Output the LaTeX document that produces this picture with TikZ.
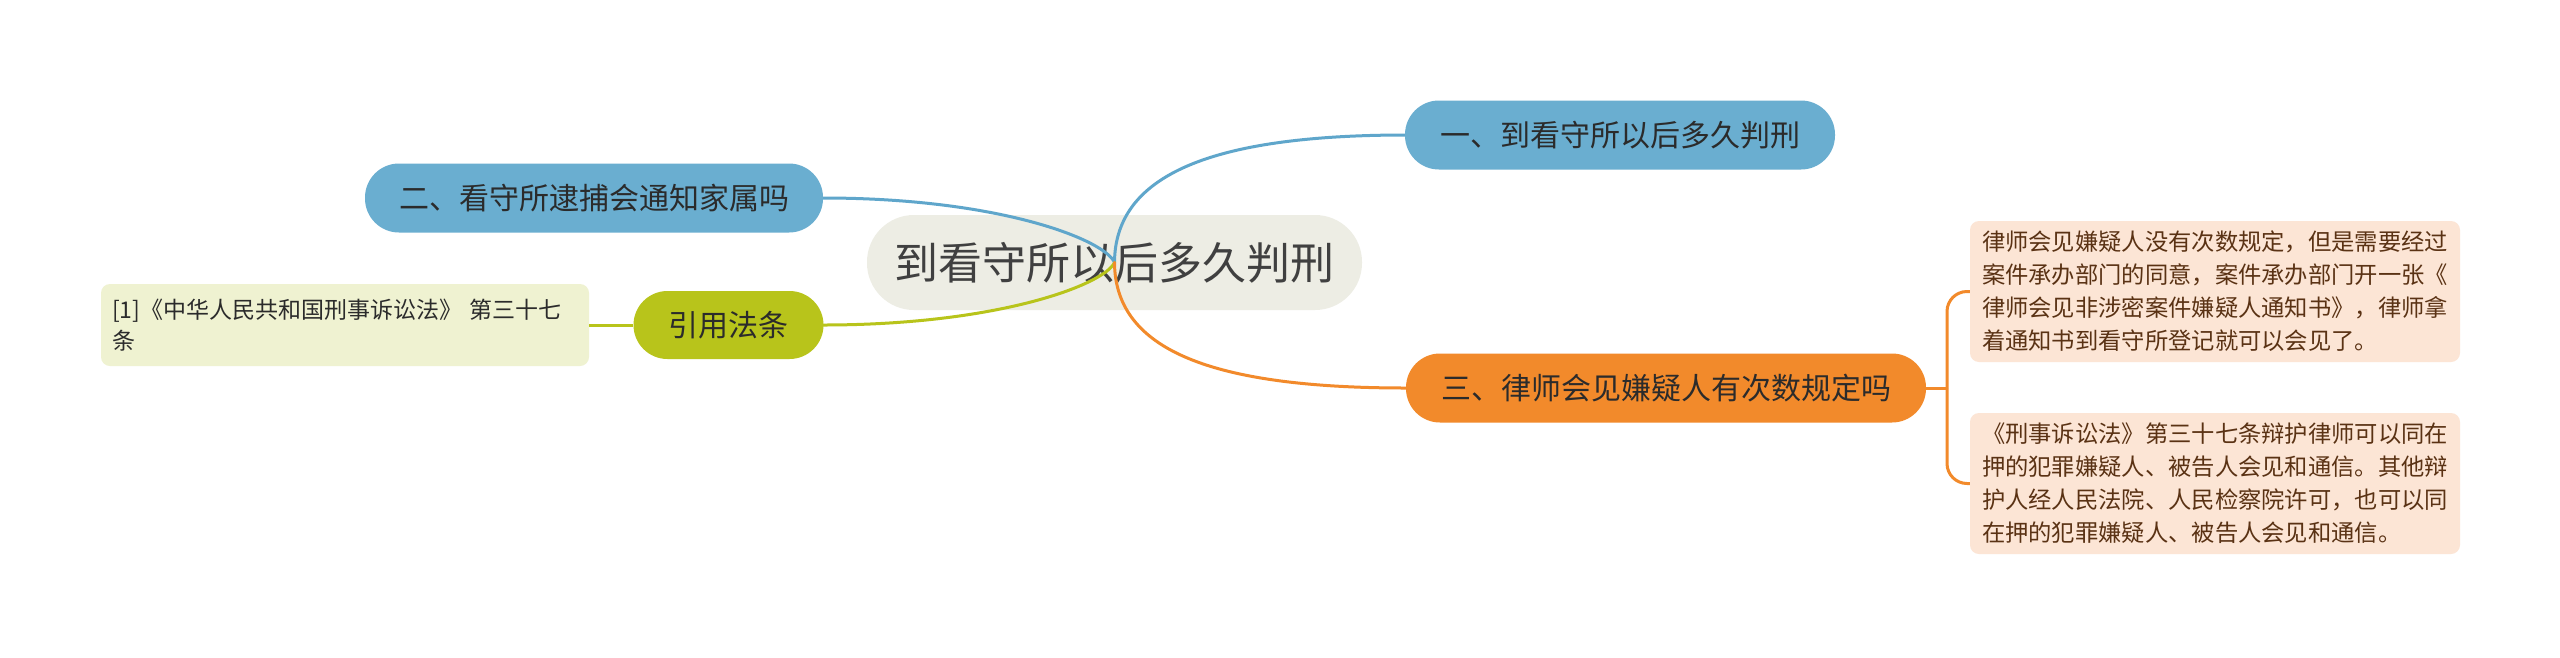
\documentclass[tikz,border=0pt]{standalone}
\usepackage{fontspec}
\setmainfont{Noto Sans CJK SC}
\definecolor{nblue}{HTML}{6AAED0}
\definecolor{nblueline}{HTML}{5FA6CB}
\definecolor{norange}{HTML}{F28A2B}
\definecolor{nolive}{HTML}{B8C41B}
\definecolor{ncenter}{HTML}{EDEDE4}
\definecolor{ncite}{HTML}{EFF2D1}
\definecolor{npeach}{HTML}{FCE5D5}
\definecolor{tdark}{HTML}{2B2B2B}
\definecolor{tbrown}{HTML}{5A3214}
\begin{document}
\begin{tikzpicture}[x=1pt,y=-1pt,
  pill/.style={rectangle, rounded corners=34pt, minimum height=69pt, inner sep=0pt,
    font=\fontsize{30}{36}\selectfont, text=tdark},
  centerpill/.style={rectangle, rounded corners=47pt, minimum height=95pt, minimum width=495pt,
    inner sep=0pt, fill=ncenter, font=\fontsize{44}{50}\selectfont, text=tdark!90},
  textbox/.style={rectangle, rounded corners=9pt, inner xsep=12pt, inner ysep=0pt,
    text width=466pt, align=left, font=\fontsize{23.3}{33}\selectfont},
  link/.style={line width=3pt, line cap=round},
]
\useasboundingbox (0,0) rectangle (2560,657);
\fill[white] (0,0) rectangle (2560,657);

% central node
\node[centerpill] (c) at (1114.5,262.5) {到看守所以后多久判刑};

% connectors from the centre
\draw[link, nblueline] (c.center) .. controls (1115,180) and (1200,135) .. (1406,135);
\draw[link, nblueline] (c.center) .. controls (1105,240) and (1000,198) .. (823,198);
\draw[link, nolive] (c.center) .. controls (1105,284) and (1000,325) .. (823,325);
\draw[link, norange] (c.center) .. controls (1115,345) and (1200,388) .. (1406,388);

% main branch nodes
\node[pill, fill=nblue, minimum width=430pt] (n1) at (1620,135) {一、到看守所以后多久判刑};
\node[pill, fill=nblue, minimum width=458pt] (n2) at (594,198) {二、看守所逮捕会通知家属吗};
\node[pill, fill=norange, minimum width=520pt] (n3) at (1666,388) {三、律师会见嫌疑人有次数规定吗};
\node[pill, fill=nolive, minimum width=190pt, minimum height=68pt] (n4) at (728.5,325) {引用法条};

% citation box
\node[textbox, fill=ncite, text=tdark, minimum height=82pt, inner xsep=11pt,
      font=\fontsize{23}{31}\selectfont] (cite) at (345,325)
  {[1]《中华人民共和国刑事诉讼法》 第三十七\\条};
\draw[link, nolive, line cap=butt] (n4.west) -- (cite.east);

% detail boxes
\node[textbox, fill=npeach, text=tbrown, minimum height=141pt] (b1) at (2215,291.5)
  {律师会见嫌疑人没有次数规定，但是需要经过\\案件承办部门的同意，案件承办部门开一张《\\律师会见非涉密案件嫌疑人通知书》，律师拿\\着通知书到看守所登记就可以会见了。};
\node[textbox, fill=npeach, text=tbrown, minimum height=141pt] (b2) at (2215,483.5)
  {《刑事诉讼法》第三十七条辩护律师可以同在\\押的犯罪嫌疑人、被告人会见和通信。其他辩\\护人经人民法院、人民检察院许可，也可以同\\在押的犯罪嫌疑人、被告人会见和通信。};

\coordinate (fork) at (1947,388);
\draw[norange, line width=3pt] (n3.east) -- (fork);
\draw[norange, line width=3pt, rounded corners=20pt] (fork) |- (b1.west);
\draw[norange, line width=3pt, rounded corners=20pt] (fork) |- (b2.west);
\end{tikzpicture}
\end{document}
